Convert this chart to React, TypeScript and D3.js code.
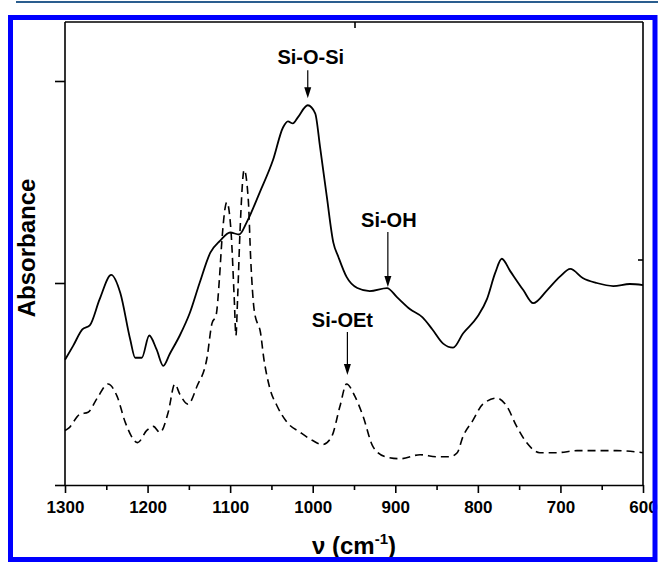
import React, { useEffect, useRef } from 'react';
import * as d3 from 'd3';

// solid spectrum (upper trace)
const solidWavenumber = [
  1300, 1290, 1279, 1270, 1258, 1244, 1233, 1221, 1215, 1207, 1198, 1189, 1181,
  1173, 1161, 1149, 1137, 1124, 1112, 1100, 1089, 1080, 1064, 1048, 1036, 1030,
  1024, 1018, 1006, 997, 991, 983, 975, 969, 959, 946, 931, 910, 898, 882, 867,
  855, 842, 830, 818, 801, 789, 779, 771, 761, 745, 733, 716, 701, 688, 673, 656,
  636, 616, 600,
];
const solidAbsorbance = [
  0.62, 0.69, 0.77, 0.79, 0.92, 1.04, 0.95, 0.72, 0.63, 0.63, 0.74, 0.67, 0.59,
  0.65, 0.74, 0.85, 1.0, 1.15, 1.21, 1.25, 1.24, 1.3, 1.45, 1.61, 1.77, 1.8,
  1.79, 1.82, 1.88, 1.84, 1.67, 1.43, 1.2, 1.13, 1.03, 0.975, 0.96, 0.975, 0.93,
  0.87, 0.83, 0.77, 0.7, 0.68, 0.75, 0.83, 0.92, 1.05, 1.12, 1.06, 0.965, 0.9,
  0.965, 1.03, 1.07, 1.025, 1.0, 0.985, 0.995, 0.99,
];

// dashed spectrum (lower trace)
const dashedWavenumber = [
  1300, 1296, 1282, 1272, 1261, 1248, 1237, 1227, 1212, 1201, 1193, 1185, 1175,
  1167, 1161, 1151, 1140, 1128, 1122, 1117, 1113, 1110, 1104, 1099, 1095, 1093,
  1091, 1088, 1083, 1078, 1075, 1071, 1066, 1064, 1059, 1052, 1043, 1031, 1015,
  1000, 988, 977, 967, 959, 949, 939, 927, 912, 894, 870, 850, 834, 825, 818,
  806, 794, 777, 765, 753, 741, 725, 704, 680, 656, 632, 600,
];
const dashedAbsorbance = [
  0.27, 0.28, 0.35, 0.36, 0.43, 0.5, 0.44, 0.31, 0.21, 0.27, 0.29, 0.26, 0.36,
  0.5, 0.45, 0.4, 0.49, 0.63, 0.8, 0.84, 1.02, 1.21, 1.4, 1.26, 0.92, 0.74,
  0.92, 1.26, 1.56, 1.41, 1.11, 0.87, 0.79, 0.77, 0.62, 0.48, 0.39, 0.31, 0.26,
  0.22, 0.2, 0.24, 0.39, 0.5, 0.44, 0.34, 0.19, 0.14, 0.13, 0.15, 0.14, 0.14,
  0.16, 0.24, 0.32, 0.4, 0.43, 0.39, 0.29, 0.21, 0.16, 0.16, 0.17, 0.17, 0.17,
  0.16,
];

const xMajorTicks = [1300, 1200, 1100, 1000, 900, 800, 700, 600];
const xMinorTicks = [1250, 1150, 1050, 950, 850, 750, 650];
const yTicks = [0, 1, 2];

const annotationLabels = ['Si-O-Si', 'Si-OH', 'Si-OEt'];
const annotationWavenumber = [1006, 909, 958];
const annotationTip = [1.915, 0.98, 0.545];

const width = 658;
const height = 563;

const App = () => {
  const svgRef = useRef<SVGSVGElement>(null);

  useEffect(() => {
    const svg = d3.select(svgRef.current);
    svg.selectAll('*').remove();

    const font = 'Arial, "Liberation Sans", Helvetica, sans-serif';
    const left = 65;
    const right = 643;
    const top = 22;
    const bottom = 485;

    const x = d3.scaleLinear().domain([1300, 600]).range([left, right]);
    const y = d3.scaleLinear().domain([0, 2]).range([bottom, 81]);

    svg.append('rect').attr('width', width).attr('height', height).attr('fill', '#fff');

    // thin rule at the very top
    svg
      .append('line')
      .attr('x1', 16)
      .attr('x2', width)
      .attr('y1', 2)
      .attr('y2', 2)
      .attr('stroke', '#2a5d8e')
      .attr('stroke-width', 2);

    const line = d3
      .line<[number, number]>()
      .x((d) => x(d[0]))
      .y((d) => y(d[1]))
      .curve(d3.curveMonotoneX);

    const solid = d3.zip(solidWavenumber, solidAbsorbance) as [number, number][];
    const dashed = d3.zip(dashedWavenumber, dashedAbsorbance) as [number, number][];

    svg
      .append('path')
      .datum(dashed)
      .attr('fill', 'none')
      .attr('stroke', '#000')
      .attr('stroke-width', 1.6)
      .attr('stroke-dasharray', '8,5')
      .attr('d', line);

    svg
      .append('path')
      .datum(solid)
      .attr('fill', 'none')
      .attr('stroke', '#000')
      .attr('stroke-width', 1.8)
      .attr('d', line);

    // frame: top and right sides with small inner ticks
    const frame = svg.append('g').attr('stroke', '#000').attr('stroke-width', 1.6);
    frame.append('line').attr('x1', left).attr('x2', right).attr('y1', top).attr('y2', top);
    frame.append('line').attr('x1', right).attr('x2', right).attr('y1', top).attr('y2', bottom);
    frame.append('line').attr('x1', 355).attr('x2', 355).attr('y1', top).attr('y2', top + 6);
    frame.append('line').attr('x1', right).attr('x2', right - 5).attr('y1', 260).attr('y2', 260);

    // left axis
    const yAxis = svg
      .append('g')
      .attr('transform', `translate(${left},0)`)
      .call(d3.axisLeft(y).tickValues(yTicks).tickSize(10).tickSizeOuter(0).tickFormat(() => ''));
    yAxis.select('.domain').remove();
    yAxis.selectAll('line').attr('stroke-width', 1.6);
    svg
      .append('line')
      .attr('x1', left)
      .attr('x2', left)
      .attr('y1', top)
      .attr('y2', bottom)
      .attr('stroke', '#000')
      .attr('stroke-width', 1.6);

    // bottom axis
    const xAxis = svg
      .append('g')
      .attr('transform', `translate(0,${bottom})`)
      .call(
        d3
          .axisBottom(x)
          .tickValues(xMajorTicks)
          .tickSize(8)
          .tickSizeOuter(0)
          .tickPadding(8)
          .tickFormat(d3.format('d'))
      );
    xAxis.select('.domain').attr('stroke-width', 1.6);
    xAxis.selectAll('line').attr('stroke-width', 1.6);
    xAxis
      .selectAll('text')
      .attr('font-family', font)
      .attr('font-size', 17)
      .attr('font-weight', 'bold')
      .attr('fill', '#000');

    svg
      .append('g')
      .attr('transform', `translate(0,${bottom})`)
      .call(d3.axisBottom(x).tickValues(xMinorTicks).tickSize(5).tickFormat(() => ''))
      .call((g) => g.select('.domain').remove())
      .selectAll('line')
      .attr('stroke-width', 1.6);

    // axis titles
    svg
      .append('text')
      .attr('transform', `translate(35,248) rotate(-90)`)
      .attr('text-anchor', 'middle')
      .attr('font-family', font)
      .attr('font-size', 24)
      .attr('font-weight', 'bold')
      .text('Absorbance');

    const xTitle = svg
      .append('text')
      .attr('x', 354)
      .attr('y', 554)
      .attr('text-anchor', 'middle')
      .attr('font-family', font)
      .attr('font-size', 24)
      .attr('font-weight', 'bold');
    xTitle.append('tspan').text('ν (cm');
    xTitle.append('tspan').attr('font-size', 15).attr('dy', -10).text('-1');
    xTitle.append('tspan').attr('dy', 10).text(')');

    // annotations
    const labelDx = [3, 1, -5];
    const labelDy = [-34, -60, -48];
    const arrowStart = [-28, -55, -43];
    annotationLabels.forEach((label, i) => {
      const ax = x(annotationWavenumber[i]);
      const ay = y(annotationTip[i]);
      svg
        .append('text')
        .attr('x', ax + labelDx[i])
        .attr('y', ay + labelDy[i])
        .attr('text-anchor', 'middle')
        .attr('font-family', font)
        .attr('font-size', 20)
        .attr('font-weight', 'bold')
        .text(label);
      svg
        .append('line')
        .attr('x1', ax)
        .attr('x2', ax)
        .attr('y1', ay + arrowStart[i])
        .attr('y2', ay - 8)
        .attr('stroke', '#000')
        .attr('stroke-width', 1.2);
      svg
        .append('path')
        .attr('d', `M${ax - 3.5},${ay - 11}L${ax + 3.5},${ay - 11}L${ax},${ay}Z`)
        .attr('fill', '#000');
    });

    // blue border drawn last so it clips the "600" label like the original
    svg
      .append('rect')
      .attr('x', 10.5)
      .attr('y', 17.5)
      .attr('width', 644.5)
      .attr('height', 542)
      .attr('fill', 'none')
      .attr('stroke', '#0000ff')
      .attr('stroke-width', 5);
  }, []);

  return (
    <svg
      ref={svgRef}
      width={width}
      height={height}
      style={{ position: 'absolute', left: 0, top: 0 }}
    ></svg>
  );
};

export default App;
